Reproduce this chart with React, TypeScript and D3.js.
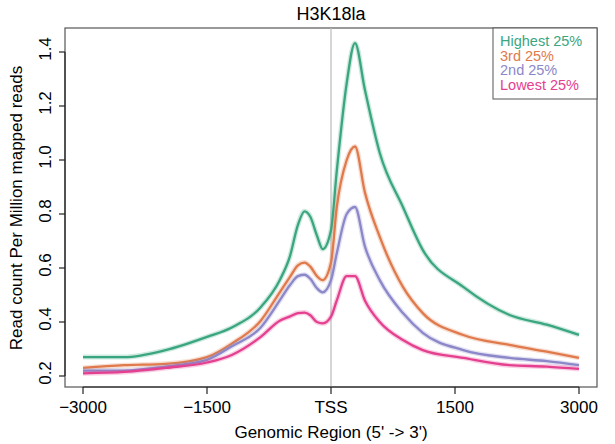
import * as d3 from "d3";

const positions = [-3000, -2500, -2000, -1500, -1200, -850, -620, -500, -400, -320, -250, -170, -100, 0, 70, 190, 290, 410, 590, 870, 1110, 1600, 2160, 2610, 3000];
const highest = [0.27, 0.27, 0.296, 0.345, 0.38, 0.455, 0.555, 0.64, 0.76, 0.81, 0.79, 0.72, 0.67, 0.74, 0.96, 1.285, 1.433, 1.26, 1.026, 0.826, 0.667, 0.53, 0.426, 0.39, 0.352];
const third = [0.23, 0.24, 0.245, 0.27, 0.32, 0.405, 0.51, 0.565, 0.61, 0.62, 0.605, 0.57, 0.555, 0.62, 0.826, 1.0, 1.05, 0.88, 0.715, 0.53, 0.433, 0.352, 0.315, 0.29, 0.267];
const second = [0.22, 0.22, 0.235, 0.26, 0.31, 0.38, 0.48, 0.535, 0.57, 0.575, 0.56, 0.525, 0.51, 0.555, 0.655, 0.8, 0.826, 0.68, 0.555, 0.433, 0.36, 0.296, 0.267, 0.255, 0.24];
const lowest = [0.21, 0.215, 0.23, 0.25, 0.278, 0.345, 0.405, 0.42, 0.433, 0.435, 0.425, 0.4, 0.395, 0.42, 0.48, 0.57, 0.57, 0.48, 0.4, 0.333, 0.296, 0.267, 0.24, 0.235, 0.226];
const seriesNames = ["Highest 25%", "3rd 25%", "2nd 25%", "Lowest 25%"];
const seriesColors = ["#3aa67f", "#e07a4c", "#8c87c9", "#e5408f"];
const xTicks = [-3000, -1500, 0, 1500, 3000];
const xTickLabels = ["\u22123000", "\u22121500", "TSS", "1500", "3000"];
const yTicks = [0.2, 0.4, 0.6, 0.8, 1.0, 1.2, 1.4];

export default function App() {
  const x = d3.scaleLinear().domain([0, 3000]).range([331, 579]);
  const y = d3.scaleLinear().domain([0.2, 1.4]).range([376, 52]);
  const font = "Liberation Sans, Arial, sans-serif";
  const all = [highest, third, second, lowest];
  const line = d3.line<number>().x((_, i) => x(positions[i])).y((d) => y(d)).curve(d3.curveMonotoneX);

  return (
    <svg width={615} height={444} style={{ position: "absolute", left: 0, top: 0 }} fontFamily={font}>
      <rect width={615} height={444} fill="#fff" />
      <text x={331} y={20} textAnchor="middle" fontSize={18}>H3K18la</text>
      <rect x={65} y={28} width={532} height={359} fill="none" stroke="#555" strokeWidth={1.2} />
      <line x1={x(0)} x2={x(0)} y1={28} y2={387} stroke="#bbb" strokeWidth={1.2} />
      {all.map((s, i) => (
        <g key={i}>
          <path d={line(s) ?? ""} fill="none" stroke={seriesColors[i]} strokeOpacity={0.25} strokeWidth={5} />
          <path d={line(s) ?? ""} fill="none" stroke={seriesColors[i]} strokeWidth={2.3} />
        </g>
      ))}
      <line x1={x(-3000)} x2={x(3000)} y1={387} y2={387} stroke="#222" strokeWidth={1.2} />
      {xTicks.map((t, i) => (
        <g key={t}>
          <line x1={x(t)} x2={x(t)} y1={387} y2={394} stroke="#222" strokeWidth={1.2} />
          <text x={x(t)} y={413} textAnchor="middle" fontSize={17}>{xTickLabels[i]}</text>
        </g>
      ))}
      <line x1={65} x2={65} y1={y(0.2)} y2={y(1.4)} stroke="#222" strokeWidth={1.2} />
      {yTicks.map((t) => (
        <g key={t}>
          <line x1={59} x2={65} y1={y(t)} y2={y(t)} stroke="#222" strokeWidth={1.2} />
          <text transform={`translate(51,${y(t) - 3}) rotate(-90)`} textAnchor="middle" fontSize={17}>{t.toFixed(1)}</text>
        </g>
      ))}
      <text x={331} y={438} textAnchor="middle" fontSize={17}>Genomic Region (5' -&gt; 3')</text>
      <text transform="translate(22,208) rotate(-90)" textAnchor="middle" fontSize={17}>Read count Per Million mapped reads</text>
      <rect x={493} y={28} width={104} height={71} fill="#fff" stroke="#555" strokeWidth={1} />
      {seriesNames.map((n, i) => (
        <text key={n} x={500} y={46 + i * 14.5} fontSize={14.5} fill={seriesColors[i]}>{n}</text>
      ))}
    </svg>
  );
}
